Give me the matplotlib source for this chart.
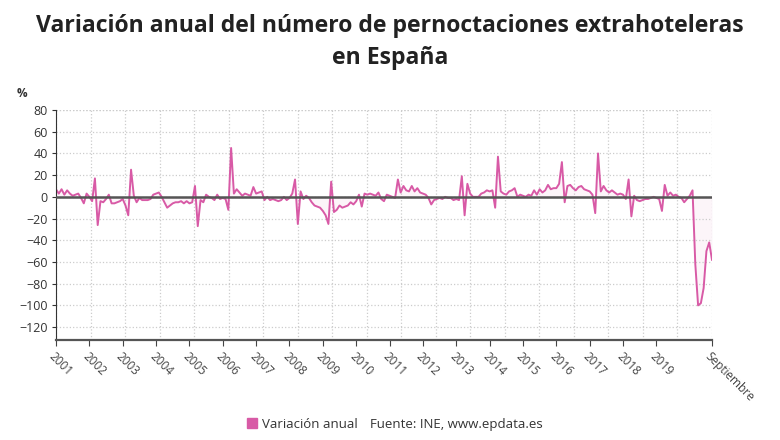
import numpy as np
import matplotlib
matplotlib.use('Agg')
import matplotlib.pyplot as plt
from matplotlib.patches import Patch

plt.rcParams['font.family'] = ['Open Sans', 'DejaVu Sans']

##### Data #####
# monthly year-on-year change (%), Jan 2001 - Sep 2020
years = list(range(2001, 2020))
end_label = 'Septiembre'

variacion = [
    7, 3, 7, 2, 6, 3, 1, 2, 3, -1, -6, 3,            # 2001
    0, -4, 17, -26, -4, -5, -2, 2, -6, -6, -5, -4,   # 2002
    -2, -8, -17, 25, 1, -5, -1, -3, -3, -3, -2, 2,   # 2003
    3, 4, 0, -5, -10, -8, -6, -5, -5, -4, -6, -4,    # 2004
    -6, -5, 10, -27, -3, -5, 2, 0, -1, -3, 2, -2,    # 2005
    -1, -2, -12, 45, 3, 7, 4, 1, 3, 2, 1, 9,         # 2006
    3, 4, 5, -3, 0, -3, -2, -3, -4, -3, 0, -3,       # 2007
    -1, 3, 16, -25, 5, -2, 1, -1, -5, -8, -9, -10,   # 2008
    -13, -17, -25, 14, -14, -12, -8, -10, -9, -8, -5, -7,  # 2009
    -4, 2, -9, 3, 2, 3, 2, 1, 4, -2, -4, 2,          # 2010
    1, 0, -1, 16, 4, 10, 6, 5, 10, 5, 8, 4,          # 2011
    3, 2, -1, -7, -3, -2, -1, -2, 0, -1, -1, -3,     # 2012
    -2, -3, 19, -17, 12, 3, 0, 0, 0, 3, 4, 6,        # 2013
    5, 6, -10, 37, 5, 3, 2, 5, 6, 8, 0, 2,           # 2014
    1, 0, 2, 1, 6, 2, 7, 4, 6, 11, 7, 8,             # 2015
    8, 12, 32, -5, 10, 11, 8, 6, 9, 10, 7, 6,        # 2016
    5, 2, -15, 40, 5, 10, 6, 4, 6, 4, 2, 3,          # 2017
    2, -2, 16, -18, 1, -3, -4, -3, -2, -2, -1, 0,    # 2018
    -1, -2, -13, 11, 1, 4, 1, 2, 0, -1, -5, -2,      # 2019
    1, 6, -62, -100, -98, -84, -50, -42, -58,        # 2020
]
################

x = np.arange(len(variacion))
y = np.array(variacion)
line_col = '#d85aa6'

fig = plt.figure(figsize=(7.8, 4.4), dpi=100)
ax = fig.add_axes([0.0718, 0.227, 0.841, 0.523])

ax.fill_between(x, y, 0, color=line_col, alpha=0.06, lw=0)
ax.plot(x, y, color=line_col, lw=1.4)
ax.axhline(0, color='#555555', lw=1.8, zorder=3)

ax.set_xlim(0, len(variacion) - 1)
ax.set_ylim(-132, 80)

# grid: horizontal every 20, vertical evenly split in 19
ax.set_yticks(np.arange(-120, 81, 20))
ax.yaxis.grid(True, color='#cccccc', ls=':', lw=0.9)
for gx in np.linspace(0, len(variacion) - 1, 20):
    ax.axvline(gx, color='#cccccc', ls=':', lw=0.9, zorder=0)
ax.axhline(80, color='#cccccc', ls=':', lw=0.9, zorder=0)

xt = [12 * i for i in range(len(years))] + [len(variacion) - 1]
ax.set_xticks(xt)
ax.set_xticklabels([str(yy) for yy in years] + [end_label], rotation=-45,
                   ha='left', va='top', rotation_mode='anchor')
ax.tick_params(axis='x', labelsize=8.5, colors='#444444', length=4, pad=3)
ax.tick_params(axis='y', labelsize=9, colors='#333333', length=3, pad=3)

for s in ['top', 'right']:
    ax.spines[s].set_visible(False)
ax.spines['left'].set_color('#333333')
ax.spines['left'].set_linestyle((0, (1, 1)))
ax.spines['bottom'].set_color('#555555')
ax.spines['bottom'].set_linewidth(1.6)

fig.text(0.5, 0.942, 'Variación anual del número de pernoctaciones extrahoteleras',
         ha='center', va='center', fontsize=16.6, fontweight='bold', color='#222222')
fig.text(0.5, 0.868, 'en España', ha='center', va='center',
         fontsize=16.6, fontweight='bold', color='#222222')
fig.text(0.028, 0.788, '%', ha='center', va='center', fontsize=8.5,
         fontweight='bold', color='#333333')

leg = fig.legend(handles=[Patch(color=line_col, label='Variación anual')],
                 loc='center left', bbox_to_anchor=(0.302, 0.036), frameon=False,
                 handlelength=0.7, handleheight=0.7, handletextpad=0.4,
                 fontsize=9.5)
for t in leg.get_texts():
    t.set_color('#333333')
fig.text(0.474, 0.036, 'Fuente: INE, www.epdata.es', ha='left', va='center',
         fontsize=9.5, color='#333333')

plt.savefig('out.png', dpi=100)
